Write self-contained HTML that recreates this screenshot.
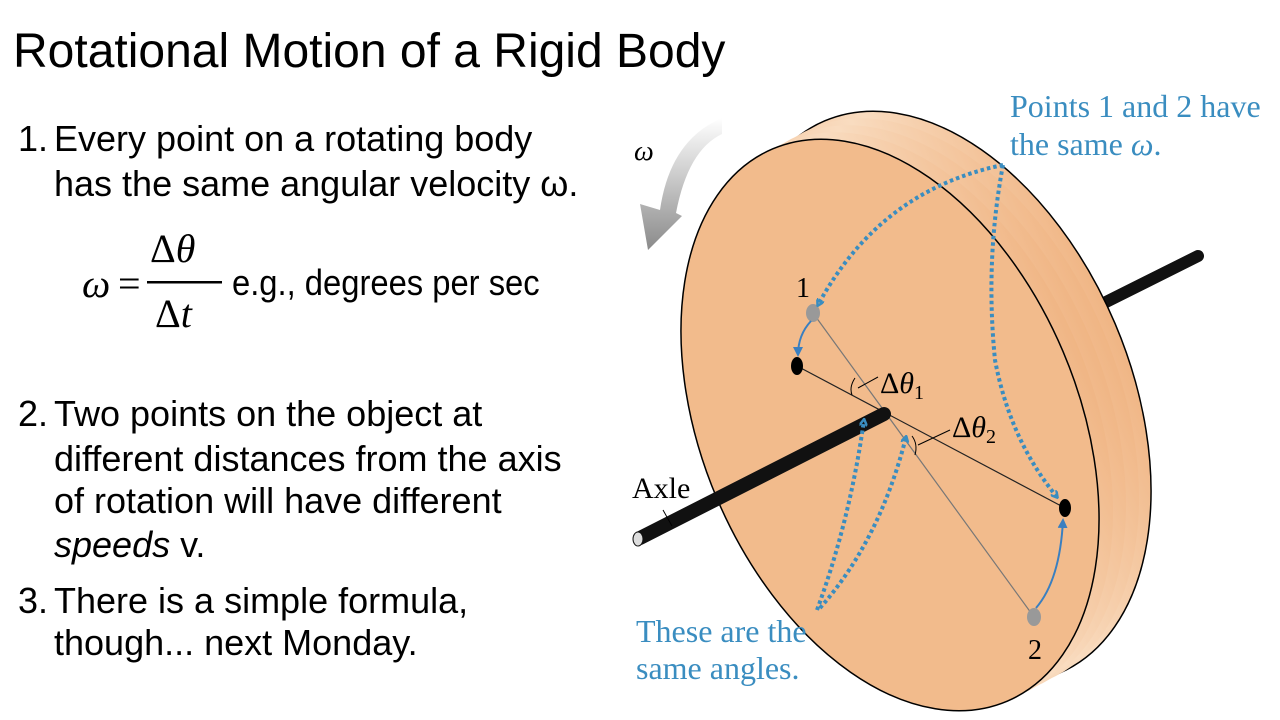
<!DOCTYPE html>
<html><head><meta charset="utf-8"><style>
html,body{margin:0;padding:0;background:#fff;overflow:hidden;width:1280px;height:720px}
svg{display:block}
.s{font-family:"Liberation Sans",sans-serif;fill:#000}
.r{font-family:"Liberation Serif",serif}
.b{fill:#3a8dc0;font-family:"Liberation Serif",serif;font-size:32px}
</style></head><body>
<svg width="1280" height="720" viewBox="0 0 1280 720" xmlns="http://www.w3.org/2000/svg">
<defs>
<linearGradient id="rim" x1="0" y1="0" x2="1" y2="0">
<stop offset="0" stop-color="#eeb27f"/><stop offset="0.6" stop-color="#f9dcc0"/><stop offset="1" stop-color="#f0b584"/>
</linearGradient>
<linearGradient id="ga" x1="0" y1="0" x2="0" y2="1">
<stop offset="0" stop-color="#fff"/><stop offset="1" stop-color="#8a8a8a"/>
</linearGradient>
<marker id="ah" markerWidth="8" markerHeight="8" refX="6" refY="4" orient="auto" markerUnits="userSpaceOnUse">
<path d="M0,0 L7,4 L0,8" fill="none" stroke="#3a8dc0" stroke-width="2.5"/></marker>
<marker id="ab" markerWidth="10" markerHeight="10" refX="8" refY="5" orient="auto" markerUnits="userSpaceOnUse">
<path d="M0,0 L10,5 L0,10z" fill="#3a7fc0"/></marker>
</defs>
<text class="s" x="13" y="67" font-size="48">Rotational Motion of a Rigid Body</text>
<g class="s" font-size="36">
<text x="18" y="151">1.</text><text x="54" y="151">Every point on a rotating body</text>
<text x="54" y="196">has the same angular velocity ω.</text>
<text x="18" y="426">2.</text><text x="54" y="426">Two points on the object at</text>
<text x="54" y="471">different distances from the axis</text>
<text x="54" y="513">of rotation will have different</text>
<text x="54" y="557"><tspan font-style="italic">speeds</tspan> v.</text>
<text x="18" y="613">3.</text><text x="54" y="613">There is a simple formula,</text>
<text x="54" y="655">though... next Monday.</text>
</g>
<g class="r" font-size="40">
<text x="82" y="297" font-style="italic">ω</text>
<text x="118" y="297">=</text>
<text x="150" y="262">Δ<tspan font-style="italic">θ</tspan></text>
<rect x="147" y="281" width="75" height="2.5" fill="#000"/>
<text x="155" y="327">Δ<tspan font-style="italic">t</tspan></text>
</g>
<text class="s" x="232" y="295" font-size="36" transform="translate(232 0) scale(0.91 1) translate(-232 0)">e.g., degrees per sec</text>

<line x1="1100" y1="305" x2="1198" y2="256" stroke="#111" stroke-width="12" stroke-linecap="round"/>
<g transform="translate(890 425)">
<g transform="translate(52 -28) rotate(-23)"><ellipse rx="188" ry="300" fill="url(#rim)" stroke="#000" stroke-width="1.5"/></g>
<g transform="translate(40 -21) rotate(-23)"><ellipse rx="188" ry="300" fill="url(#rim)"/></g>
<g transform="translate(27 -14) rotate(-23)"><ellipse rx="188" ry="300" fill="url(#rim)"/></g>
<g transform="translate(14 -7) rotate(-23)"><ellipse rx="188" ry="300" fill="url(#rim)"/></g>
<g transform="rotate(-23)"><ellipse rx="188" ry="300" fill="#f2bb8c" stroke="#000" stroke-width="1.5"/></g>
</g>
<line x1="813" y1="313" x2="1034" y2="617" stroke="#777" stroke-width="1.2"/>
<line x1="797" y1="366" x2="1065" y2="508" stroke="#222" stroke-width="1.2"/>
<line x1="640" y1="538" x2="884" y2="414" stroke="#111" stroke-width="14" stroke-linecap="round"/>
<ellipse cx="638" cy="539" rx="5" ry="7" fill="#ddd" stroke="#111"/>
<line x1="663" y1="510" x2="672" y2="526" stroke="#000"/>
<text class="r" x="632" y="498" font-size="30">Axle</text>
<ellipse cx="813" cy="313" rx="7" ry="9" fill="#999"/>
<ellipse cx="1034" cy="617" rx="7" ry="9" fill="#999"/>
<ellipse cx="797" cy="366" rx="6" ry="9" fill="#000"/>
<ellipse cx="1065" cy="508" rx="6" ry="9" fill="#000"/>
<text class="r" x="796" y="297" font-size="28">1</text>
<text class="r" x="1028" y="659" font-size="28">2</text>
<path d="M811,321 Q798,335 798,355" fill="none" stroke="#3a7fc0" stroke-width="2" marker-end="url(#ab)"/>
<path d="M1036,608 Q1060,580 1063,520" fill="none" stroke="#3a7fc0" stroke-width="2" marker-end="url(#ab)"/>
<path d="M855,378 Q849,387 852,395" fill="none" stroke="#000"/>
<line x1="858" y1="388" x2="878" y2="377" stroke="#000"/>
<text class="r" x="880" y="393" font-size="30">Δ<tspan font-style="italic">θ</tspan><tspan font-size="20" dy="6">1</tspan></text>
<path d="M912,436 Q918,444 915,455" fill="none" stroke="#000"/>
<line x1="918" y1="445" x2="950" y2="430" stroke="#000"/>
<text class="r" x="952" y="437" font-size="30">Δ<tspan font-style="italic">θ</tspan><tspan font-size="20" dy="6">2</tspan></text>
<g fill="none" stroke="#3a8dc0" stroke-width="4" stroke-dasharray="3.5 3">
<path d="M1003,165 Q880,190 818,305" marker-end="url(#ah)"/>
<path d="M1003,165 Q985,260 995,360 Q1010,440 1057,497" marker-end="url(#ah)"/>
<path d="M817,610 Q850,520 864,420" marker-end="url(#ah)"/>
<path d="M820,608 Q880,540 906,437" marker-end="url(#ah)"/>
</g>
<text class="b" x="1010" y="117">Points 1 and 2 have</text>
<text class="b" x="1010" y="155">the same <tspan font-style="italic">ω</tspan>.</text>
<text class="b" x="636" y="642">These are the</text>
<text class="b" x="636" y="679">same angles.</text>
<path d="M722,118 Q670,140 660,210 L640,204 L648,250 L682,216 L676,213 Q688,150 722,134 Z" fill="url(#ga)"/>
<text class="r" x="634" y="160" font-size="28" font-style="italic">ω</text>
</svg>
</body></html>
